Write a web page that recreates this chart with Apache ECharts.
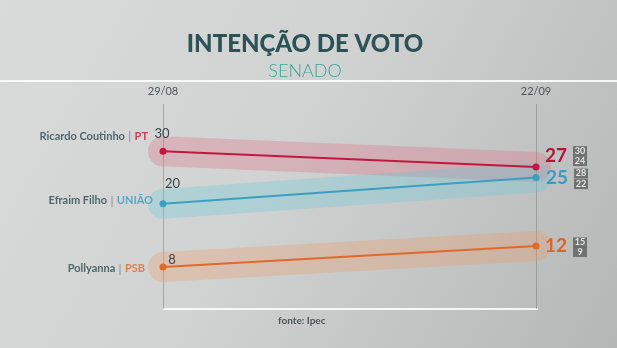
<!DOCTYPE html>
<html><head><meta charset="utf-8">
<script src="https://cdn.jsdelivr.net/npm/echarts@6/dist/echarts.min.js"></script>
<style>html,body{margin:0;padding:0;background:#ccc;}#c{width:617px;height:348px;}</style>
</head><body><div id="c"></div>
<script>
// ---- data ----
const dates = ['29/08', '22/09'];
const candidates = ['Ricardo Coutinho', 'Efraim Filho', 'Pollyanna'];
const parties = ['PT', 'UNIÃO', 'PSB'];
const ricardo = [30, 27];
const efraim = [20, 25];
const pollyanna = [8, 12];
const upperBound = [30, 28, 15];
const lowerBound = [24, 22, 9];

// ---- styles ----
const values = [ricardo, efraim, pollyanna];
const lineColors = ['#c0183f', '#3b9fc0', '#e0692b'];
const bandColors = ['rgba(225,110,135,0.33)', 'rgba(105,200,215,0.33)', 'rgba(240,150,95,0.30)'];
const partyColors = ['#c4163f', '#3a9cc0', '#e0692b'];
const bigColors = ['#b3163a', '#3b9dbd', '#d9662a'];
const startOffsets = [[-1, -17], [9.5, -20], [9, -7]];
const endOffsets = [[20, -11], [21, 0], [20, 0]];
const nameOffsets = [[-15, -15], [-10, -3], [-18, 2]];
const upOffsets = [[44, -16], [45, -4], [44, -3.5]];
const lowOffsets = [[44, -6], [45, 6.5], [44, 6]];

const series = [];
values.forEach((vals, i) => {
  series.push({
    type: 'line', data: vals, symbol: 'none', silent: true, z: 1,
    lineStyle: { width: 30, color: bandColors[i], cap: 'round' }
  });
  series.push({
    type: 'line', z: 3,
    data: vals.map((v, j) => ({
      value: v,
      label: j === 0 ? {
        show: true, position: 'inside', offset: startOffsets[i],
        formatter: '{c}', color: '#3b4648', fontSize: 13, fontFamily: 'Lato'
      } : {
        show: true, position: 'inside', offset: endOffsets[i],
        formatter: '{c}', color: bigColors[i], fontSize: 19, fontWeight: 'bold', fontFamily: 'Lato'
      }
    })),
    symbol: 'circle', symbolSize: 7,
    itemStyle: { color: lineColors[i] },
    lineStyle: { width: 2, color: lineColors[i] }
  });
  // candidate name at start
  series.push({
    type: 'scatter', symbolSize: 0, silent: true, z: 4,
    data: [[dates[0], vals[0]]],
    label: {
      show: true, position: 'inside', offset: nameOffsets[i], align: 'right',
      formatter: () => '{n|' + candidates[i] + '} {s||} {p|' + parties[i] + '}',
      rich: {
        n: { color: '#2e4a4f', fontSize: 11, fontWeight: 'bold', fontFamily: 'Lato' },
        s: { color: '#6f7a7c', fontSize: 12, fontFamily: 'Lato' },
        p: { color: partyColors[i], fontSize: 11, fontWeight: 'bold', fontFamily: 'Lato' }
      }
    }
  });
  // margin boxes
  [[upperBound, upOffsets], [lowerBound, lowOffsets]].forEach(([arr, offs]) => {
    series.push({
      type: 'scatter', symbolSize: 0, silent: true, z: 4,
      data: [[dates[1], vals[1]]],
      label: {
        show: true, position: 'inside', offset: offs[i],
        formatter: () => String(arr[i]),
        backgroundColor: '#5e5e5e', color: '#fff', fontSize: 9, fontWeight: 'bold',
        fontFamily: 'Lato', width: 14, height: 10, lineHeight: 10, align: 'center',
        verticalAlign: 'middle', padding: 0
      }
    });
  });
});

const chart = echarts.init(document.getElementById('c'), null, { renderer: 'canvas' });
chart.setOption({
  animation: false,
  backgroundColor: {
    type: 'linear', x: 0, y: 0, x2: 1, y2: 1,
    colorStops: [
      { offset: 0, color: '#d8dbda' },
      { offset: 0.45, color: '#d0d3d2' },
      { offset: 1, color: '#b5b7b6' }
    ]
  },
  title: [
    { text: 'INTENÇÃO DE VOTO', left: 300, top: 27, textAlign: 'center',
      textStyle: { fontSize: 24, fontWeight: 900, color: '#2c5257', fontFamily: 'Lato' } },
    { text: 'SENADO', left: 300, top: 57, textAlign: 'center',
      textStyle: { fontSize: 18, fontWeight: 300, color: '#3aa595', fontFamily: 'Lato' } }
  ],
  grid: { left: 163, right: 81, top: 104, bottom: 39 },
  xAxis: {
    type: 'category', data: dates, boundaryGap: false, position: 'top',
    axisLine: { show: false }, axisTick: { show: false },
    axisLabel: { margin: 7, color: '#4e5657', fontSize: 11, fontFamily: 'Lato' },
    splitLine: { show: true, lineStyle: { color: 'rgba(110,115,115,0.45)', width: 1 } }
  },
  yAxis: { type: 'value', min: 0, max: 39, show: false },
  graphic: [
    { type: 'line', shape: { x1: 0, y1: 81, x2: 617, y2: 81 }, style: { stroke: 'rgba(255,255,255,0.85)', lineWidth: 2 }, z: 0 },
    { type: 'line', shape: { x1: 163, y1: 309, x2: 538, y2: 309 }, style: { stroke: 'rgba(255,255,255,0.85)', lineWidth: 2 }, z: 0 },
    { type: 'text', left: 278, top: 316, style: { text: 'fonte: Ipec', fill: '#4a5557', fontSize: 10, fontWeight: 'bold', fontFamily: 'Lato' } }
  ],
  series: series
});
</script>
</body></html>
